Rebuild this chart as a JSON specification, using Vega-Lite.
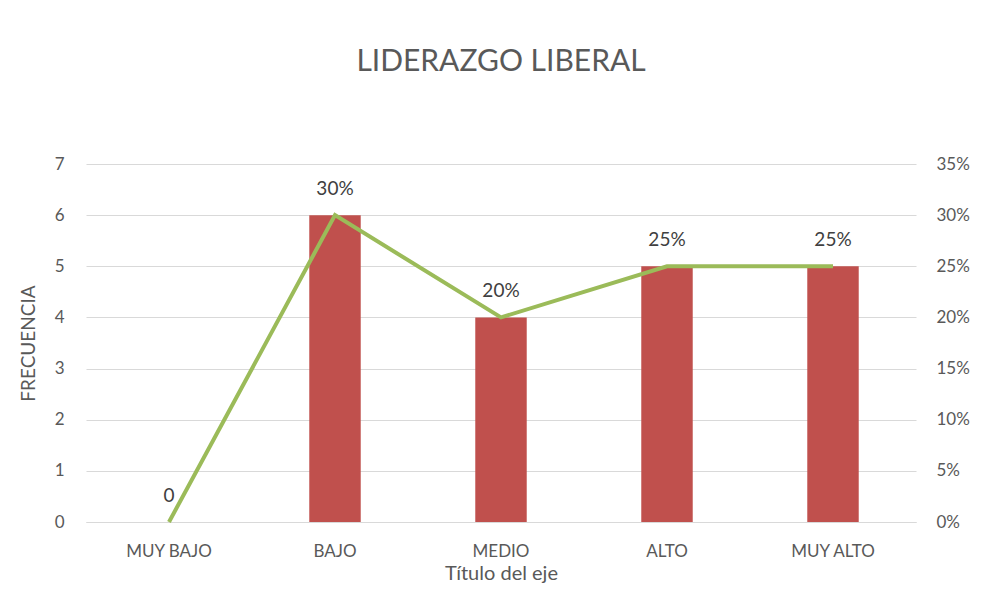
{
  "$schema": "https://vega.github.io/schema/vega-lite/v6.json",
  "width": 830,
  "height": 358,
  "autosize": "none",
  "padding": {"left": 86, "top": 164, "right": 65, "bottom": 68},
  "background": "white",
  "config": {
    "font": "Lato",
    "view": {"stroke": null},
    "axis": {"labelFont": "Lato", "titleFont": "Lato", "labelColor": "#595959", "titleColor": "#595959", "labelFontSize": 17, "titleFontSize": 20, "titleFontWeight": "normal", "ticks": false, "domain": false, "gridColor": "#D9D9D9"}
  },
  "title": {"text": "LIDERAZGO LIBERAL", "fontSize": 30, "font": "Lato", "fontWeight": "normal", "color": "#595959", "offset": 78, "anchor": "middle"},
  "data": {"values": [
    {"nivel": "MUY BAJO", "frecuencia": 0, "porcentaje": 0, "etiqueta": "0"},
    {"nivel": "BAJO", "frecuencia": 6, "porcentaje": 0.30, "etiqueta": "30%"},
    {"nivel": "MEDIO", "frecuencia": 4, "porcentaje": 0.20, "etiqueta": "20%"},
    {"nivel": "ALTO", "frecuencia": 5, "porcentaje": 0.25, "etiqueta": "25%"},
    {"nivel": "MUY ALTO", "frecuencia": 5, "porcentaje": 0.25, "etiqueta": "25%"}
  ]},
  "encoding": {
    "x": {"field": "nivel", "type": "nominal", "sort": null,
      "scale": {"paddingInner": 0.69, "paddingOuter": 0.345},
      "axis": {"title": "Título del eje", "labelAngle": 0, "labelPadding": 21, "titlePadding": 4, "domain": true, "domainColor": "#D9D9D9", "grid": false}}
  },
  "layer": [
    {
      "mark": {"type": "bar", "color": "#C0504D"},
      "encoding": {
        "y": {"field": "frecuencia", "type": "quantitative", "scale": {"domain": [0, 7]},
          "axis": {"title": "FRECUENCIA", "titleFontSize": 19, "values": [0, 1, 2, 3, 4, 5, 6, 7], "grid": true, "labelPadding": 22, "titlePadding": 16}}
      }
    },
    {
      "encoding": {
        "y": {"field": "porcentaje", "type": "quantitative", "scale": {"domain": [0, 0.35]},
          "axis": {"orient": "right", "title": null, "format": ".0%", "values": [0, 0.05, 0.1, 0.15, 0.2, 0.25, 0.3, 0.35], "grid": false, "labelPadding": 20}}
      },
      "layer": [
        {"mark": {"type": "line", "color": "#9BBB59", "strokeWidth": 4}},
        {"mark": {"type": "text", "dy": -26, "fontSize": 19, "color": "#404040", "font": "Lato"},
          "encoding": {"text": {"field": "etiqueta"}}}
      ]
    }
  ],
  "resolve": {"scale": {"y": "independent"}}
}
